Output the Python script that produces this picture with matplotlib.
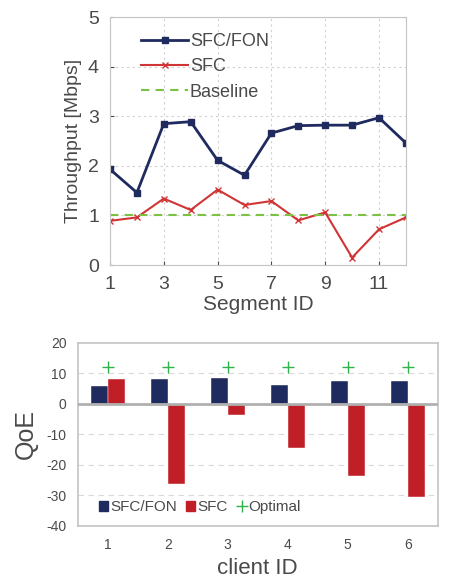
import numpy as np
import matplotlib
matplotlib.use("Agg")
import matplotlib.pyplot as plt
from matplotlib.patches import Patch
from matplotlib.lines import Line2D

plt.rcParams['font.family'] = ['Liberation Sans', 'DejaVu Sans']

# top chart data
segments = np.arange(1, 13)
sfc_fon_tp = [1.93, 1.46, 2.85, 2.89, 2.11, 1.81, 2.66, 2.81, 2.82, 2.82, 2.97, 2.46]
sfc_tp = [0.89, 0.96, 1.34, 1.11, 1.52, 1.21, 1.29, 0.90, 1.06, 0.15, 0.72, 0.96]
baseline = 1.0

# bottom chart data
clients = np.arange(1, 7)
sfc_fon_qoe = [5.7, 8.1, 8.6, 6.3, 7.4, 7.4]
sfc_qoe = [8.1, -26.4, -3.7, -14.5, -23.7, -30.4]
optimal_qoe = [12.2, 12.2, 12.2, 12.2, 12.2, 12.2]

navy = '#1f2a5e'
red_line = '#d03434'
red_bar = '#c11f27'
green_dash = '#7cc242'
green_plus = '#2db34a'
txt = '#4a4a4a'
spine = '#c4c4c4'

fig = plt.figure(figsize=(4.49, 5.78), dpi=100)

# ---- top: throughput ----
ax1 = fig.add_axes([0.245, 0.5415, 0.659, 0.429])
ax1.plot(segments, sfc_fon_tp, color=navy, lw=2, marker='s', ms=4, label='SFC/FON')
ax1.plot(segments, sfc_tp, color=red_line, lw=1.5, marker='x', ms=4, mew=1, label='SFC')
ax1.axhline(baseline, color=green_dash, lw=1.5, ls=(0, (4, 3)), label='Baseline')
ax1.set_xlim(1, 12)
ax1.set_ylim(0, 5)
ax1.set_xticks([1, 3, 5, 7, 9, 11])
ax1.set_yticks([0, 1, 2, 3, 4, 5])
ax1.grid(True, color='#d0d0d0', ls=(0, (2, 3)), lw=0.8)
ax1.tick_params(labelsize=14, colors=txt, length=3, direction='in', pad=8)
ax1.tick_params(axis='x', pad=8)
for s in ax1.spines.values():
    s.set_color(spine)
ax1.set_xlabel('Segment ID', fontsize=15, color=txt, labelpad=1)
ax1.set_ylabel('Throughput [Mbps]', fontsize=14, color=txt, labelpad=4)
leg1 = ax1.legend(loc='upper left', frameon=False, fontsize=13, handlelength=2.6,
                  handletextpad=0.1, labelspacing=0.45, borderaxespad=0.5,
                  bbox_to_anchor=(0.05, 1.0))
for t in leg1.get_texts():
    t.set_color(txt)

# ---- bottom: QoE ----
ax2 = fig.add_axes([0.173, 0.09, 0.802, 0.317])
w = 0.285
ax2.bar(clients - w / 2, sfc_fon_qoe, width=w, color=navy, edgecolor='white', lw=0.3)
ax2.bar(clients + w / 2, sfc_qoe, width=w, color=red_bar, edgecolor='white', lw=0.3)
ax2.plot(clients, optimal_qoe, ls='none', marker='+', ms=9, mew=1, color=green_plus)
ax2.axhline(0, color='#b0b0b0', lw=2, zorder=3)
ax2.set_xlim(0.5, 6.5)
ax2.set_ylim(-40, 20)
ax2.set_xticks(clients)
ax2.set_yticks([-40, -30, -20, -10, 0, 10, 20])
ax2.set_yticklabels(['-40', '-30', '-20', '-10', '0', '10', '20'])
for yv in [-30, -20, -10, 10]:
    ax2.axhline(yv, color='#dadada', lw=0.8, ls=(0, (5, 4)), zorder=0)
ax2.tick_params(labelsize=10, colors=txt, length=0, pad=8)
ax2.tick_params(axis='x', pad=9)
for s in ax2.spines.values():
    s.set_color(spine)
    s.set_linewidth(1.2)
ax2.set_ylabel('QoE', fontsize=18, color=txt, labelpad=6)
ax2.set_xlabel('client ID', fontsize=16, color=txt, labelpad=4)
handles = [Patch(color=navy), Patch(color=red_bar),
           Line2D([], [], ls='none', marker='+', ms=9, mew=1, color=green_plus)]
leg2 = ax2.legend(handles, ['SFC/FON', 'SFC', 'Optimal'], loc='lower left', ncol=3,
                  frameon=False, fontsize=11, handlelength=0.6, handleheight=0.6,
                  handletextpad=0.15, columnspacing=0.6, bbox_to_anchor=(0.02, -0.01))
for t in leg2.get_texts():
    t.set_color(txt)

fig.savefig('out.png', dpi=100)
